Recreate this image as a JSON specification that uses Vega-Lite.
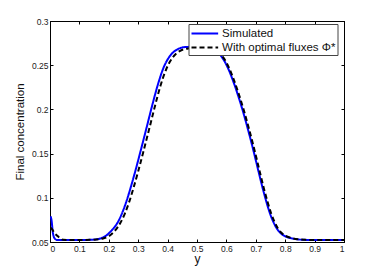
{
  "$schema": "https://vega.github.io/schema/vega-lite/v6.json",
  "width": 294,
  "height": 221,
  "autosize": {"type": "none"},
  "padding": {"left": 50, "top": 21, "right": 38, "bottom": 31},
  "background": "white",
  "config": {
    "font": "Liberation Sans",
    "view": {"stroke": "#000", "strokeWidth": 1},
    "axis": {"grid": false, "domainColor": "#000", "tickColor": "#000", "labelColor": "#222", "titleColor": "#111", "labelFont": "Liberation Sans", "titleFont": "Liberation Sans", "labelFontSize": 8.5, "titleFontSize": 11.5, "titleFontWeight": "normal", "tickSize": -3}
  },
  "datasets": {
    "curves": [
      {"y": 0.002, "c": 0.079, "series": "Simulated"},
      {"y": 0.005, "c": 0.075, "series": "Simulated"},
      {"y": 0.01, "c": 0.060, "series": "Simulated"},
      {"y": 0.017, "c": 0.0535, "series": "Simulated"},
      {"y": 0.025, "c": 0.0522, "series": "Simulated"},
      {"y": 0.1, "c": 0.0522, "series": "Simulated"},
      {"y": 0.15, "c": 0.0528, "series": "Simulated"},
      {"y": 0.171, "c": 0.054, "series": "Simulated"},
      {"y": 0.19, "c": 0.057, "series": "Simulated"},
      {"y": 0.211, "c": 0.0636, "series": "Simulated"},
      {"y": 0.23, "c": 0.072, "series": "Simulated"},
      {"y": 0.245, "c": 0.0825, "series": "Simulated"},
      {"y": 0.26, "c": 0.096, "series": "Simulated"},
      {"y": 0.273, "c": 0.110, "series": "Simulated"},
      {"y": 0.29, "c": 0.130, "series": "Simulated"},
      {"y": 0.309, "c": 0.154, "series": "Simulated"},
      {"y": 0.329, "c": 0.180, "series": "Simulated"},
      {"y": 0.348, "c": 0.205, "series": "Simulated"},
      {"y": 0.366, "c": 0.227, "series": "Simulated"},
      {"y": 0.386, "c": 0.247, "series": "Simulated"},
      {"y": 0.408, "c": 0.2605, "series": "Simulated"},
      {"y": 0.431, "c": 0.2675, "series": "Simulated"},
      {"y": 0.46, "c": 0.2705, "series": "Simulated"},
      {"y": 0.5, "c": 0.271, "series": "Simulated"},
      {"y": 0.54, "c": 0.270, "series": "Simulated"},
      {"y": 0.565, "c": 0.266, "series": "Simulated"},
      {"y": 0.587, "c": 0.258, "series": "Simulated"},
      {"y": 0.605, "c": 0.247, "series": "Simulated"},
      {"y": 0.623, "c": 0.232, "series": "Simulated"},
      {"y": 0.64, "c": 0.2155, "series": "Simulated"},
      {"y": 0.657, "c": 0.197, "series": "Simulated"},
      {"y": 0.672, "c": 0.179, "series": "Simulated"},
      {"y": 0.687, "c": 0.160, "series": "Simulated"},
      {"y": 0.70, "c": 0.1425, "series": "Simulated"},
      {"y": 0.712, "c": 0.126, "series": "Simulated"},
      {"y": 0.724, "c": 0.110, "series": "Simulated"},
      {"y": 0.736, "c": 0.0955, "series": "Simulated"},
      {"y": 0.748, "c": 0.0825, "series": "Simulated"},
      {"y": 0.76, "c": 0.0725, "series": "Simulated"},
      {"y": 0.772, "c": 0.065, "series": "Simulated"},
      {"y": 0.785, "c": 0.0598, "series": "Simulated"},
      {"y": 0.80, "c": 0.0565, "series": "Simulated"},
      {"y": 0.82, "c": 0.0543, "series": "Simulated"},
      {"y": 0.84, "c": 0.0531, "series": "Simulated"},
      {"y": 0.87, "c": 0.0524, "series": "Simulated"},
      {"y": 1.0, "c": 0.0522, "series": "Simulated"},
      {"y": 0.002, "c": 0.066, "series": "With optimal fluxes Φ*"},
      {"y": 0.008, "c": 0.064, "series": "With optimal fluxes Φ*"},
      {"y": 0.015, "c": 0.060, "series": "With optimal fluxes Φ*"},
      {"y": 0.025, "c": 0.057, "series": "With optimal fluxes Φ*"},
      {"y": 0.032, "c": 0.055, "series": "With optimal fluxes Φ*"},
      {"y": 0.045, "c": 0.0525, "series": "With optimal fluxes Φ*"},
      {"y": 0.1, "c": 0.0522, "series": "With optimal fluxes Φ*"},
      {"y": 0.15, "c": 0.0526, "series": "With optimal fluxes Φ*"},
      {"y": 0.18, "c": 0.054, "series": "With optimal fluxes Φ*"},
      {"y": 0.2, "c": 0.0565, "series": "With optimal fluxes Φ*"},
      {"y": 0.22, "c": 0.0625, "series": "With optimal fluxes Φ*"},
      {"y": 0.24, "c": 0.072, "series": "With optimal fluxes Φ*"},
      {"y": 0.255, "c": 0.0825, "series": "With optimal fluxes Φ*"},
      {"y": 0.27, "c": 0.096, "series": "With optimal fluxes Φ*"},
      {"y": 0.283, "c": 0.110, "series": "With optimal fluxes Φ*"},
      {"y": 0.30, "c": 0.130, "series": "With optimal fluxes Φ*"},
      {"y": 0.319, "c": 0.154, "series": "With optimal fluxes Φ*"},
      {"y": 0.339, "c": 0.180, "series": "With optimal fluxes Φ*"},
      {"y": 0.358, "c": 0.205, "series": "With optimal fluxes Φ*"},
      {"y": 0.376, "c": 0.227, "series": "With optimal fluxes Φ*"},
      {"y": 0.396, "c": 0.246, "series": "With optimal fluxes Φ*"},
      {"y": 0.418, "c": 0.259, "series": "With optimal fluxes Φ*"},
      {"y": 0.441, "c": 0.266, "series": "With optimal fluxes Φ*"},
      {"y": 0.47, "c": 0.269, "series": "With optimal fluxes Φ*"},
      {"y": 0.5, "c": 0.2705, "series": "With optimal fluxes Φ*"},
      {"y": 0.54, "c": 0.270, "series": "With optimal fluxes Φ*"},
      {"y": 0.567, "c": 0.2665, "series": "With optimal fluxes Φ*"},
      {"y": 0.591, "c": 0.258, "series": "With optimal fluxes Φ*"},
      {"y": 0.609, "c": 0.247, "series": "With optimal fluxes Φ*"},
      {"y": 0.627, "c": 0.232, "series": "With optimal fluxes Φ*"},
      {"y": 0.644, "c": 0.2155, "series": "With optimal fluxes Φ*"},
      {"y": 0.661, "c": 0.197, "series": "With optimal fluxes Φ*"},
      {"y": 0.676, "c": 0.179, "series": "With optimal fluxes Φ*"},
      {"y": 0.691, "c": 0.160, "series": "With optimal fluxes Φ*"},
      {"y": 0.704, "c": 0.1425, "series": "With optimal fluxes Φ*"},
      {"y": 0.716, "c": 0.126, "series": "With optimal fluxes Φ*"},
      {"y": 0.728, "c": 0.110, "series": "With optimal fluxes Φ*"},
      {"y": 0.740, "c": 0.0955, "series": "With optimal fluxes Φ*"},
      {"y": 0.752, "c": 0.0825, "series": "With optimal fluxes Φ*"},
      {"y": 0.764, "c": 0.0725, "series": "With optimal fluxes Φ*"},
      {"y": 0.776, "c": 0.065, "series": "With optimal fluxes Φ*"},
      {"y": 0.789, "c": 0.0598, "series": "With optimal fluxes Φ*"},
      {"y": 0.804, "c": 0.0565, "series": "With optimal fluxes Φ*"},
      {"y": 0.824, "c": 0.0543, "series": "With optimal fluxes Φ*"},
      {"y": 0.844, "c": 0.0531, "series": "With optimal fluxes Φ*"},
      {"y": 0.874, "c": 0.0524, "series": "With optimal fluxes Φ*"},
      {"y": 1.0, "c": 0.0522, "series": "With optimal fluxes Φ*"}
    ]
  },
  "data": {"name": "curves"},
  "layer": [
    {
      "mark": {"type": "line", "interpolate": "monotone", "strokeWidth": 2, "clip": true},
      "encoding": {
        "x": {"field": "y", "type": "quantitative", "scale": {"domain": [0, 1], "nice": false},
          "axis": {"orient": "bottom", "title": "y", "values": [0,0.1,0.2,0.3,0.4,0.5,0.6,0.7,0.8,0.9,1], "format": ".1~f", "labelPadding": 5, "titlePadding": 1, "titleFontSize": 12}},
        "y": {"field": "c", "type": "quantitative", "scale": {"domain": [0.05, 0.3], "nice": false, "zero": false},
          "axis": {"orient": "left", "title": "Final concentration", "values": [0.05,0.1,0.15,0.2,0.25,0.3], "format": ".2~f", "labelPadding": 5, "titlePadding": 6}},
        "color": {"field": "series", "type": "nominal", "sort": null,
          "scale": {"domain": ["Simulated", "With optimal fluxes Φ*"], "range": ["#0000ff", "#000000"]},
          "legend": {"title": null, "orient": "none", "legendX": 138.5, "legendY": 3, "fillColor": "white", "strokeColor": "#444", "padding": 2, "labelFontSize": 11.5, "labelColor": "#111", "symbolType": "M-1,0H3.1", "symbolSize": 169, "symbolStrokeWidth": 2, "rowPadding": 1, "labelOffset": 16.6}},
        "strokeDash": {"field": "series", "type": "nominal", "sort": null,
          "scale": {"domain": ["Simulated", "With optimal fluxes Φ*"], "range": [[1, 0], [5, 3]]},
          "legend": {"title": null, "orient": "none", "legendX": 138.5, "legendY": 3}}
      }
    },
    {
      "mark": {"type": "point", "opacity": 0},
      "encoding": {
        "x": {"field": "y", "type": "quantitative", "axis": {"orient": "top", "title": null, "labels": false, "values": [0,0.1,0.2,0.3,0.4,0.5,0.6,0.7,0.8,0.9,1]}},
        "y": {"field": "c", "type": "quantitative", "axis": {"orient": "right", "title": null, "labels": false, "values": [0.05,0.1,0.15,0.2,0.25,0.3]}}
      }
    }
  ],
  "resolve": {"axis": {"x": "independent", "y": "independent"}}
}
